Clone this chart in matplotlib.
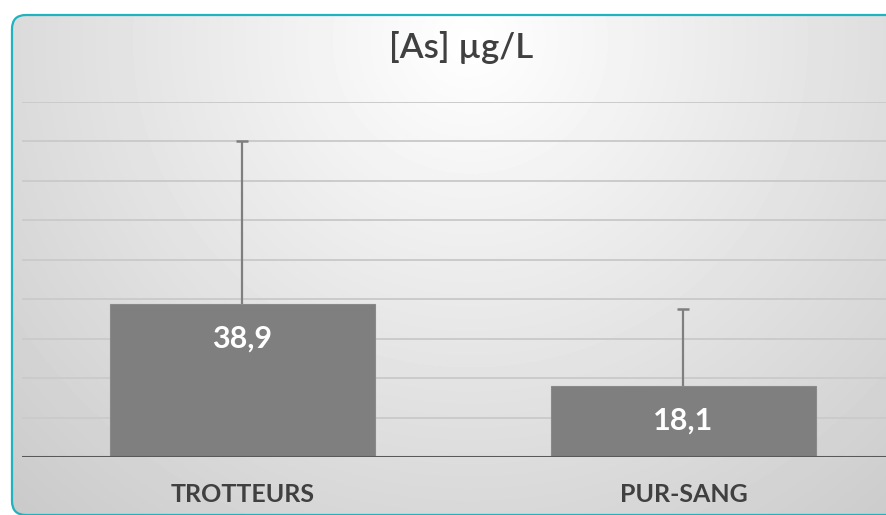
import numpy as np
import matplotlib.pyplot as plt
from matplotlib.patches import FancyBboxPatch

# -----------------------------
# Data
# -----------------------------
categories = ["TROTTEURS", "PUR-SANG"]
means = [38.9, 18.1]
sd_upper = [41.1, 19.5]
value_labels = ["38,9", "18,1"]
title = "[As] µg/L"

W, H = 886, 515
fig = plt.figure(figsize=(W / 100, H / 100), dpi=100)
fig.patch.set_facecolor("white")

# background card with radial grey gradient
bg = fig.add_axes([0, 0, 1, 1], zorder=0)
bg.set_xlim(0, W)
bg.set_ylim(H, 0)
bg.axis("off")
yy, xx = np.mgrid[0:H, 0:W]
r = np.sqrt(((xx - 470) / 640.0) ** 2 + ((yy - 40) / 620.0) ** 2)
shade = np.clip(1.0 - 0.2 * r, 0.78, 1.0)
img = bg.imshow(shade, cmap="gray", vmin=0, vmax=1, extent=(0, W, H, 0),
                interpolation="bilinear")
card = FancyBboxPatch((12, 15), W + 40, 500, boxstyle="round,pad=0,rounding_size=14",
                      facecolor="none", edgecolor="#1fb3bf", linewidth=1.6)
bg.add_patch(card)
clip = FancyBboxPatch((12, 15), W + 40, 500, boxstyle="round,pad=0,rounding_size=14",
                      transform=bg.transData, facecolor="none", edgecolor="none")
bg.add_patch(clip)
img.set_clip_path(clip)

# plot area (extends beyond the right edge, as in the cropped reference)
left, right = 22 / W, 904 / W
bottom, top = 1 - 457 / H, 1 - 102 / H
ax = fig.add_axes([left, bottom, right - left, top - bottom], zorder=1)
ax.patch.set_alpha(0)
x = np.arange(len(categories))
ax.set_xlim(-0.5, len(categories) - 0.5)
ax.set_ylim(0, 90)
ax.set_yticks(np.arange(10, 91, 10))
ax.yaxis.grid(True, color="#cbcbcb", linewidth=1.4)
ax.set_axisbelow(True)
for s in ax.spines.values():
    s.set_visible(False)
ax.tick_params(left=False, bottom=False, labelleft=False, labelbottom=False)
ax.axhline(0, color="#595959", linewidth=2.2, zorder=3)

ax.bar(x, means, width=0.6, color="#7f7f7f", edgecolor="#8a8a8a", linewidth=0.8, zorder=2)

# upper-only error bars, cap only at the top
tops = np.array(means) + np.array(sd_upper)
ax.vlines(x, means, tops, color="#7f7f7f", linewidth=1.6, zorder=2)
ax.plot(x, tops, linestyle="none", marker="_", markersize=9, markeredgewidth=1.8,
        color="#7f7f7f", zorder=2)

for xi, m, lab in zip(x, means, value_labels):
    ax.text(xi, m - 8.8, lab, ha="center", va="center", color="white",
            fontsize=22, fontweight="bold", family="Lato", zorder=4)

for xi, c in zip(x, categories):
    ax.text(xi, -9.5, c, ha="center", va="center", color="#404040",
            fontsize=18, fontweight="bold", family="Lato", clip_on=False)

fig.text(461 / W, 1 - 48 / H, title, ha="center", va="center", color="#404040",
         fontsize=25, fontweight="semibold", family="Lato")

fig.savefig("out.png", dpi=100)
